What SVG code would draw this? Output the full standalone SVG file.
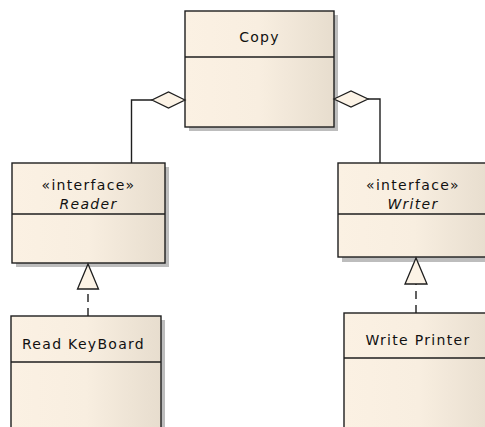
<svg xmlns="http://www.w3.org/2000/svg" width="485" height="427" viewBox="0 0 485 427">
  <defs>
    <linearGradient id="classFill" x1="0" y1="0" x2="1" y2="0">
      <stop offset="0" stop-color="#FBF1E3"/>
      <stop offset="0.5" stop-color="#F8EEE0"/>
      <stop offset="1" stop-color="#E7DDCE"/>
    </linearGradient>
  </defs>
  <style>
    .shadow { fill: #BDBDBD; }
    .box { fill: url(#classFill); stroke: #1E1E1E; stroke-width: 1.4; }
    .divider { stroke: #1E1E1E; stroke-width: 1.4; }
    .label { font-family: "DejaVu Sans", "Liberation Sans", sans-serif; font-size: 14px; letter-spacing: 1.3px; fill: #111111; text-anchor: middle; }
    .italic { font-style: italic; }
    .line { fill: none; stroke: #1E1E1E; stroke-width: 1.4; }
    .dashed { stroke-dasharray: 8 6; }
    .diamond { fill: #FCF3E6; stroke: #1E1E1E; stroke-width: 1.3; }
    .triangle { fill: #FCF3E6; stroke: #1E1E1E; stroke-width: 1.3; }
  </style>

  <!-- Copy class -->
  <g id="copy">
    <rect class="shadow" x="189" y="15" width="149" height="116"/>
    <rect class="box" x="185" y="11" width="149" height="116"/>
    <line class="divider" x1="185" y1="57" x2="334" y2="57"/>
    <text class="label" x="259.5" y="42">Copy</text>
  </g>

  <!-- Reader interface -->
  <g id="reader">
    <rect class="shadow" x="16" y="167" width="153" height="100"/>
    <rect class="box" x="12" y="163" width="153" height="100"/>
    <line class="divider" x1="12" y1="214" x2="165" y2="214"/>
    <text class="label" x="88.5" y="190">«interface»</text>
    <text class="label italic" x="88.5" y="209">Reader</text>
  </g>

  <!-- Writer interface -->
  <g id="writer">
    <rect class="shadow" x="342" y="167" width="152" height="95"/>
    <rect class="box" x="338" y="163" width="152" height="94"/>
    <line class="divider" x1="338" y1="214" x2="490" y2="214"/>
    <text class="label" x="413" y="190">«interface»</text>
    <text class="label italic" x="413" y="209">Writer</text>
  </g>

  <!-- Read KeyBoard class -->
  <g id="read-keyboard">
    <rect class="shadow" x="15" y="320" width="150" height="120"/>
    <rect class="box" x="11" y="316" width="150" height="120"/>
    <line class="divider" x1="11" y1="362" x2="161" y2="362"/>
    <text class="label" x="83.5" y="349">Read KeyBoard</text>
  </g>

  <!-- Write Printer class -->
  <g id="write-printer">
    <rect class="shadow" x="348" y="317" width="150" height="120"/>
    <rect class="box" x="344" y="313" width="150" height="120"/>
    <line class="divider" x1="344" y1="358" x2="494" y2="358"/>
    <text class="label" x="418" y="345">Write Printer</text>
  </g>

  <!-- Connectors -->
  <g id="connectors">
    <!-- aggregation: Copy to Reader -->
    <polyline class="line" points="152,100 131.5,100 131.5,163"/>
    <polygon class="diamond" points="185,100 168.5,92 152,100 168.5,108"/>
    <!-- aggregation: Copy to Writer -->
    <polyline class="line" points="368,99 380,99 380,163"/>
    <polygon class="diamond" points="334,99 351,91 368,99 351,107"/>
    <!-- realization: Read KeyBoard to Reader -->
    <line class="line dashed" x1="88" y1="316" x2="88" y2="289"/>
    <polygon class="triangle" points="88,264 77.5,289 98.5,289"/>
    <!-- realization: Write Printer to Writer -->
    <line class="line dashed" x1="416" y1="313" x2="416" y2="284"/>
    <polygon class="triangle" points="416,258 405,284 427,284"/>
  </g>
</svg>
